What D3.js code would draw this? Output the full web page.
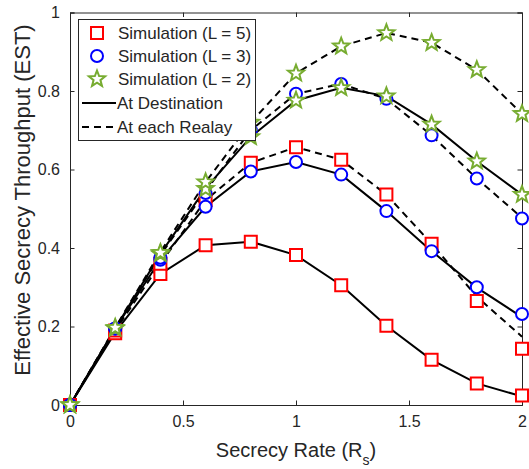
<!DOCTYPE html>
<html>
<head>
<meta charset="utf-8">
<script src="https://cdn.jsdelivr.net/npm/d3@7"></script>
<style>
  html, body { margin: 0; padding: 0; background: #fff; }
  svg { display: block; }
  text { font-family: "Liberation Sans", Arial, sans-serif; fill: #262626; }
</style>
</head>
<body>
<svg id="chart" width="529" height="469"></svg>
<script>
// Secrecy rate sample points (R_s)
const rates = [0, 0.2, 0.4, 0.6, 0.8, 1.0, 1.2, 1.4, 1.6, 1.8, 2.0];

// Analytical EST curves
const analyticDestL5  = [0, 0.185, 0.334, 0.407, 0.416, 0.382, 0.305, 0.202, 0.115, 0.055, 0.022];
const analyticRelayL5 = [0, 0.190, 0.360, 0.522, 0.617, 0.657, 0.625, 0.536, 0.411, 0.276, 0.174];
const analyticDestL3  = [0, 0.195, 0.370, 0.505, 0.595, 0.619, 0.587, 0.494, 0.392, 0.299, 0.224];
const analyticRelayL3 = [0, 0.195, 0.382, 0.545, 0.700, 0.793, 0.818, 0.780, 0.687, 0.577, 0.477];
const analyticDestL2  = [0, 0.195, 0.385, 0.552, 0.683, 0.776, 0.808, 0.787, 0.715, 0.621, 0.536];
const analyticRelayL2 = [0, 0.197, 0.390, 0.568, 0.720, 0.845, 0.914, 0.948, 0.923, 0.854, 0.742];

// Monte-Carlo simulation points
const simDestL5  = [0, 0.183, 0.334, 0.407, 0.416, 0.382, 0.305, 0.202, 0.115, 0.055, 0.024];
const simRelayL5 = [0, 0.190, 0.360, 0.522, 0.617, 0.657, 0.625, 0.536, 0.411, 0.265, 0.143];
const simDestL3  = [0, 0.195, 0.370, 0.505, 0.595, 0.619, 0.587, 0.494, 0.392, 0.300, 0.232];
const simRelayL3 = [0, 0.195, 0.375, 0.540, 0.700, 0.793, 0.818, 0.780, 0.687, 0.577, 0.475];
const simDestL2  = [0, 0.195, 0.385, 0.551, 0.683, 0.776, 0.808, 0.787, 0.715, 0.621, 0.536];
const simRelayL2 = [0, 0.197, 0.388, 0.568, 0.720, 0.845, 0.914, 0.948, 0.923, 0.854, 0.742];

const xTicks = [0, 0.5, 1, 1.5, 2];
const yTicks = [0, 0.2, 0.4, 0.6, 0.8, 1];

const legendLabels = ["Simulation (L = 5)", "Simulation (L = 3)", "Simulation (L = 2)", "At Destination", "At each Realay"];

const RED = "#ff0000", BLUE = "#0000ff", GREEN = "#77ac30", AXIS = "#262626";

const svg = d3.select("#chart");
const plot = { left: 70, right: 522, top: 12.5, bottom: 405 };

const x = d3.scaleLinear().domain([0, 2]).range([plot.left, plot.right]);
const y = d3.scaleLinear().domain([0, 1]).range([plot.bottom, plot.top]);

// Axes box with inward ticks on all four sides
const tickLen = 4.5;
const axisBottom = d3.axisBottom(x).tickValues(xTicks).tickSize(-tickLen).tickPadding(10).tickFormat(d3.format("~g"));
const axisLeft = d3.axisLeft(y).tickValues(yTicks).tickSize(-tickLen).tickPadding(10).tickFormat(d3.format("~g"));
const axisTop = d3.axisTop(x).tickValues(xTicks).tickSize(-tickLen).tickFormat("");
const axisRight = d3.axisRight(y).tickValues(yTicks).tickSize(-tickLen).tickFormat("");

function styleAxis(g) {
  g.selectAll("path.domain").attr("stroke", AXIS).attr("stroke-width", 1);
  g.selectAll(".tick line").attr("stroke", AXIS).attr("stroke-width", 1);
  g.selectAll(".tick text").style("font-size", "16px").style("font-family", "'Liberation Sans', Arial, sans-serif").attr("fill", AXIS);
}

const gx = svg.append("g").attr("transform", `translate(0,${plot.bottom})`).call(axisBottom).call(styleAxis);
gx.selectAll(".tick text").attr("dy", "0.72em");
const gy = svg.append("g").attr("transform", `translate(${plot.left},0)`).call(axisLeft).call(styleAxis);
svg.append("g").attr("transform", `translate(0,${plot.top})`).call(axisTop).call(styleAxis);
svg.append("g").attr("transform", `translate(${plot.right},0)`).call(axisRight).call(styleAxis);

// Axis titles
const xl = svg.append("text")
  .attr("x", (plot.left + plot.right) / 2).attr("y", 457)
  .attr("text-anchor", "middle").style("font-size", "20px");
xl.append("tspan").text("Secrecy Rate (R");
xl.append("tspan").attr("dy", 8).style("font-size", "14px").text("s");
xl.append("tspan").attr("dy", -8).text(")");

svg.append("text")
  .attr("transform", `translate(30,200) rotate(-90)`)
  .attr("text-anchor", "middle").style("font-size", "22px")
  .text("Effective Secrecy Throughput (EST)");

// Curves
const line = d3.line().x((d, i) => x(rates[i])).y(d => y(d));
const curves = [
  { v: analyticDestL5, dash: null },
  { v: analyticRelayL5, dash: "7,5" },
  { v: analyticDestL3, dash: null },
  { v: analyticRelayL3, dash: "7,5" },
  { v: analyticDestL2, dash: null },
  { v: analyticRelayL2, dash: "7,5" }
];
svg.append("g").selectAll("path").data(curves).join("path")
  .attr("d", c => line(c.v))
  .attr("fill", "none").attr("stroke", "#000").attr("stroke-width", 2)
  .attr("stroke-dasharray", c => c.dash);

// Marker symbols
const squareSym = d3.symbol().type(d3.symbolSquare).size(144);
const circleSym = d3.symbol().type(d3.symbolCircle).size(Math.PI * 36);
const starPath = (() => {
  // five-pointed star, outer radius R, inner radius r
  const R = 8.5, r = 3.6, pts = [];
  for (let k = 0; k < 10; k++) {
    const a = -Math.PI / 2 + k * Math.PI / 5;
    const rad = k % 2 === 0 ? R : r;
    pts.push([rad * Math.cos(a), rad * Math.sin(a)]);
  }
  return "M" + pts.map(p => p.join(",")).join("L") + "Z";
})();

const markerSets = [
  { v: simDestL5, d: squareSym(), c: RED },
  { v: simRelayL5, d: squareSym(), c: RED },
  { v: simDestL3, d: circleSym(), c: BLUE },
  { v: simRelayL3, d: circleSym(), c: BLUE },
  { v: simDestL2, d: starPath, c: GREEN },
  { v: simRelayL2, d: starPath, c: GREEN }
];
markerSets.forEach(s => {
  svg.append("g").selectAll("path").data(s.v).join("path")
    .attr("transform", (d, i) => `translate(${x(rates[i])},${y(d)})`)
    .attr("d", s.d)
    .attr("fill", "#fff").attr("stroke", s.c).attr("stroke-width", 2);
});

// Legend
const lg = svg.append("g");
lg.append("rect").attr("x", 78.5).attr("y", 19.5).attr("width", 177).attr("height", 121)
  .attr("fill", "#fff").attr("stroke", AXIS).attr("stroke-width", 1);
const rowY = [33, 56, 79, 103, 127];
const legendMarks = [
  { d: squareSym(), c: RED },
  { d: circleSym(), c: BLUE },
  { d: starPath, c: GREEN }
];
legendMarks.forEach((m, i) => {
  lg.append("path").attr("transform", `translate(97,${rowY[i]})`).attr("d", m.d)
    .attr("fill", "#fff").attr("stroke", m.c).attr("stroke-width", 2);
});
[null, "7,5"].forEach((dash, j) => {
  lg.append("line").attr("x1", 82).attr("x2", 116).attr("y1", rowY[3 + j]).attr("y2", rowY[3 + j])
    .attr("stroke", "#000").attr("stroke-width", 2).attr("stroke-dasharray", dash);
});
legendLabels.forEach((t, i) => {
  lg.append("text").attr("x", i < 3 ? 118 : 117).attr("y", rowY[i]).attr("dy", "0.36em")
    .style("font-size", "17px").text(t);
});
</script>
</body>
</html>
